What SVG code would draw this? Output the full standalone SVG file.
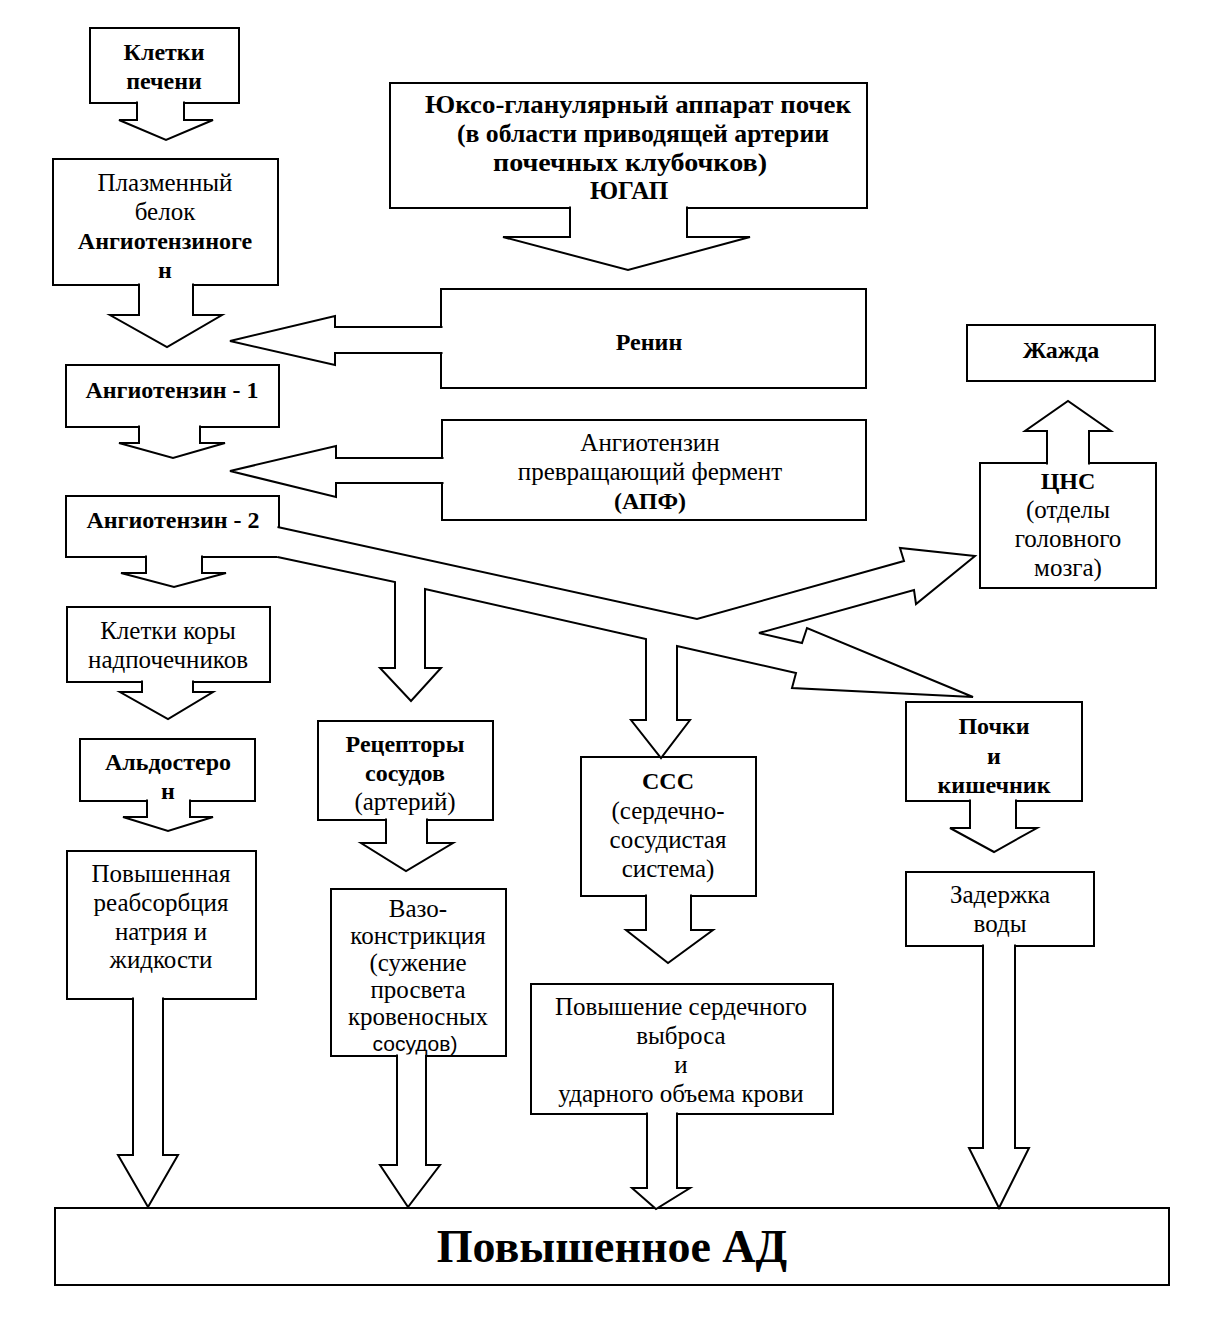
<svg xmlns="http://www.w3.org/2000/svg" width="1210" height="1339" viewBox="0 0 1210 1339">
<style>
.box{fill:#fff;stroke:#000;stroke-width:2}
.arr{fill:#fff;stroke:#000;stroke-width:2;stroke-linejoin:miter}
text{font-family:"Liberation Serif","Times New Roman",serif;font-size:25px;text-anchor:middle;fill:#000}
.b{font-weight:bold;font-size:24px}
.j{font-size:25px}
.s{font-family:"Liberation Sans",Arial,sans-serif;font-size:21px}
.big{font-size:46px;font-weight:bold}
</style>
<rect width="1210" height="1339" fill="#fff"/>
<g id="nodes">
<g id="n-liver"><rect class="box" x="90" y="28" width="149" height="75"/><text class="b" x="164" y="60">Клетки</text><text class="b" x="164" y="89">печени</text></g>
<g id="n-angiotensinogen"><rect class="box" x="53" y="159" width="225" height="126"/><text x="165" y="191">Плазменный</text><text x="165" y="220">белок</text><text class="b" x="165" y="249">Ангиотензиноге</text><text class="b" x="165" y="278">н</text></g>
<g id="n-jgap"><rect class="box" x="390" y="83" width="477" height="125"/><text class="b j" x="638" y="113" textLength="426" lengthAdjust="spacingAndGlyphs">Юксо-гланулярный аппарат почек</text><text class="b j" x="643" y="142" textLength="372" lengthAdjust="spacingAndGlyphs">(в области приводящей артерии</text><text class="b j" x="630" y="171" textLength="274" lengthAdjust="spacingAndGlyphs">почечных клубочков)</text><text class="b j" x="629" y="199">ЮГАП</text></g>
<g id="n-renin"><rect class="box" x="441" y="289" width="425" height="99"/><text class="b" x="649" y="350">Ренин</text></g>
<g id="n-ang1"><rect class="box" x="66" y="365" width="213" height="62"/><text class="b" x="172" y="398">Ангиотензин - 1</text></g>
<g id="n-ace"><rect class="box" x="442" y="420" width="424" height="100"/><text x="650" y="451">Ангиотензин</text><text x="650" y="480">превращающий фермент</text><text class="b" x="650" y="509">(АПФ)</text></g>
<g id="n-ang2"><rect class="box" x="66" y="496" width="213" height="61"/><text class="b" x="173" y="528">Ангиотензин - 2</text></g>
<g id="n-thirst"><rect class="box" x="967" y="325" width="188" height="56"/><text class="b" x="1061" y="358">Жажда</text></g>
<g id="n-cns"><rect class="box" x="980" y="463" width="176" height="125"/><text class="b" x="1068" y="489">ЦНС</text><text x="1068" y="518">(отделы</text><text x="1068" y="547">головного</text><text x="1068" y="576">мозга)</text></g>
<g id="n-adrenal"><rect class="box" x="67" y="607" width="203" height="75"/><text x="168" y="639">Клетки коры</text><text x="168" y="668">надпочечников</text></g>
<g id="n-aldosterone"><rect class="box" x="80" y="739" width="175" height="62"/><text class="b" x="168" y="770">Альдостеро</text><text class="b" x="168" y="799">н</text></g>
<g id="n-reabsorption"><rect class="box" x="67" y="851" width="189" height="148"/><text x="161" y="882">Повышенная</text><text x="161" y="911">реабсорбция</text><text x="161" y="940">натрия и</text><text x="161" y="968">жидкости</text></g>
<g id="n-receptors"><rect class="box" x="318" y="721" width="175" height="99"/><text class="b" x="405" y="752">Рецепторы</text><text class="b" x="405" y="781">сосудов</text><text x="405" y="810">(артерий)</text></g>
<g id="n-vaso"><rect class="box" x="331" y="889" width="175" height="167"/><text x="418" y="917">Вазо-</text><text x="418" y="944">констрикция</text><text x="418" y="971">(сужение</text><text x="418" y="998">просвета</text><text x="418" y="1025">кровеносных</text><text class="s" x="415" y="1051">сосудов)</text></g>
<g id="n-css"><rect class="box" x="581" y="757" width="175" height="139"/><text class="b" x="668" y="789">ССС</text><text x="668" y="819">(сердечно-</text><text x="668" y="848">сосудистая</text><text x="668" y="877">система)</text></g>
<g id="n-output"><rect class="box" x="531" y="984" width="302" height="130"/><text x="681" y="1015">Повышение сердечного</text><text x="681" y="1044">выброса</text><text x="681" y="1073">и</text><text x="681" y="1102">ударного объема крови</text></g>
<g id="n-kidneys"><rect class="box" x="906" y="702" width="176" height="99"/><text class="b" x="994" y="734">Почки</text><text class="b" x="994" y="764">и</text><text class="b" x="994" y="793">кишечник</text></g>
<g id="n-water"><rect class="box" x="906" y="872" width="188" height="74"/><text x="1000" y="903">Задержка</text><text x="1000" y="932">воды</text></g>
<g id="n-bp"><rect class="box" x="55" y="1208" width="1114" height="77"/><text class="big" x="612" y="1262">Повышенное АД</text></g>
</g>
<g id="connectors">
<path class="arr" d="M137,101.5 V120 H119 L166,140 L213,120 H184 V101.5"/>
<path class="arr" d="M139,283.5 V315 H110 L167,347 L222,315 H193 V283.5"/>
<path class="arr" d="M570,206.5 V237 H503 L628,270 L750,237 H687 V206.5"/>
<path class="arr" d="M442.5,327 H335 V316 L230,341 L335,365 V353 H442.5"/>
<path class="arr" d="M139,425.5 V443 H119 L173,458 L225,443 H200 V425.5"/>
<path class="arr" d="M443.5,458 H336 V446 L230,471 L336,497 V483 H443.5"/>
<path class="arr" d="M146,555.5 V573 H121 L174,587 L226,573 H202 V555.5"/>
<path class="arr" d="M277.5,527 L697,619 L904,561 L900,548 L975,556 L916,604 L914,590 L759,633 L802,643 L807,628 L973,697 L792,688 L796,673 L677,646 V720 H690 L661,758 L631,720 H646 V639 L425,589 V668 H441 L411,701 L380,668 H395 V582 L277.5,557"/>
<path class="arr" d="M142,680.5 V692 H120 L168,719 L213,692 H193 V680.5"/>
<path class="arr" d="M147,799.5 V817 H123 L168,831 L213,817 H190 V799.5"/>
<path class="arr" d="M133,997.5 V1155 H118 L148,1207 L178,1155 H163 V997.5"/>
<path class="arr" d="M386,818.5 V843 H361 L406,871 L453,843 H427 V818.5"/>
<path class="arr" d="M397,1054.5 V1165 H380 L408,1207 L440,1165 H426 V1054.5"/>
<path class="arr" d="M646,894.5 V930 H626 L668,963 L713,930 H691 V894.5"/>
<path class="arr" d="M647,1112.5 V1188 H632 L656,1209 L690,1188 H677 V1112.5"/>
<path class="arr" d="M1047,464.5 V431 H1025 L1068,401 L1111,431 H1089 V464.5"/>
<path class="arr" d="M970,799.5 V828 H950 L994,852 L1037,828 H1016 V799.5"/>
<path class="arr" d="M983,944.5 V1148 H969 L999,1208 L1029,1148 H1015 V944.5"/>
</g>
</svg>
